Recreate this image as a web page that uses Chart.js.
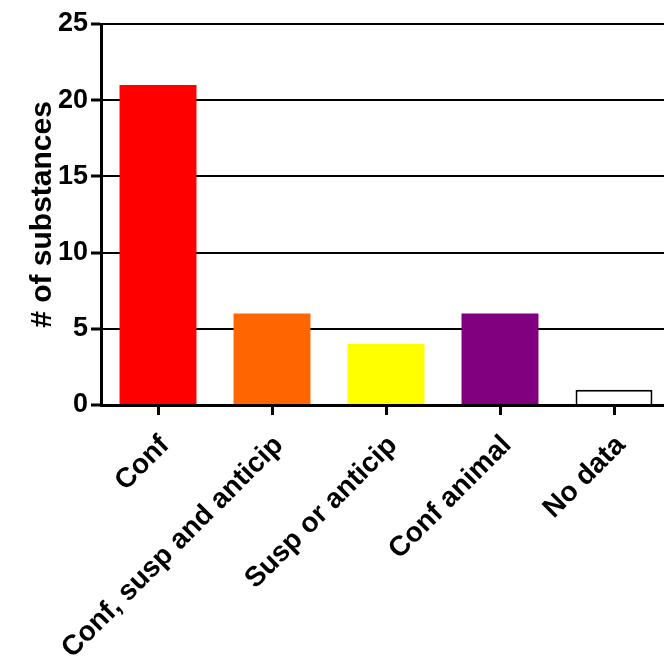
<!DOCTYPE html>
<html>
<head>
<meta charset="utf-8">
<script src="https://cdn.jsdelivr.net/npm/chart.js@4"></script>
<style>
  html, body { margin: 0; padding: 0; background: #fff; overflow: hidden; }
  canvas { display: block; }
</style>
</head>
<body>
<canvas id="barChart" width="680" height="659"></canvas>
<script>
// data
var categories = ['Conf', 'Conf, susp and anticip', 'Susp or anticip', 'Conf animal', 'No data'];
var substanceCounts = [21, 6, 4, 6, 1];
var barColors = ['#ff0000', '#ff6600', '#ffff00', '#800080', '#ffffff'];
var yTicks = [0, 5, 10, 15, 20, 25];

var fontFamily = '"Liberation Sans", Arial, sans-serif';

var ctx = document.getElementById('barChart');
var barChart = new Chart(ctx, {
    type: 'bar',
    data: {
        labels: categories,
        datasets: [{
            label: '# of substances',
            data: substanceCounts,
            backgroundColor: barColors,
            borderColor: ['#ff0000', '#ff6600', '#ffff00', '#800080', '#000000'],
            borderWidth: [0, 0, 0, 0, 2],
            borderSkipped: 'bottom',
            categoryPercentage: 1,
            barPercentage: 0.675
        }]
    },
    options: {
        responsive: false,
        animation: false,
        devicePixelRatio: 1,
        layout: { padding: { top: 24, right: 9, left: 0, bottom: 0 } },
        plugins: {
            legend: { display: false },
            tooltip: { enabled: false }
        },
        scales: {
            x: {
                afterFit: function(scale){ scale.height = 254; },
                grid: {
                    offset: false,
                    drawOnChartArea: false,
                    drawTicks: true,
                    tickLength: 10,
                    tickWidth: 3,
                    tickColor: '#000'
                },
                border: { display: true, color: '#000', width: 3 },
                ticks: {
                    color: '#000',
                    minRotation: 45,
                    maxRotation: 45,
                    padding: 14,
                    labelOffset: 7,
                    font: { family: fontFamily, size: 28, weight: 'bold' }
                }
            },
            y: {
                min: 0,
                max: 25,
                afterFit: function(scale){ scale.width = 101; },
                afterBuildTicks: function(scale){
                    scale.ticks = yTicks.map(function(v){ return { value: v }; });
                },
                grid: {
                    color: '#000',
                    lineWidth: 2,
                    drawTicks: true,
                    tickLength: 10,
                    tickWidth: 3,
                    tickColor: '#000'
                },
                border: { display: true, color: '#000', width: 3 },
                ticks: {
                    color: '#000',
                    padding: 3,
                    font: { family: fontFamily, size: 27, weight: 'bold' }
                },
                title: {
                    display: true,
                    text: '# of substances',
                    color: '#000',
                    padding: { top: 25, bottom: 0 },
                    font: { family: fontFamily, size: 30, weight: 'bold' }
                }
            }
        }
    }
});
</script>
</body>
</html>
